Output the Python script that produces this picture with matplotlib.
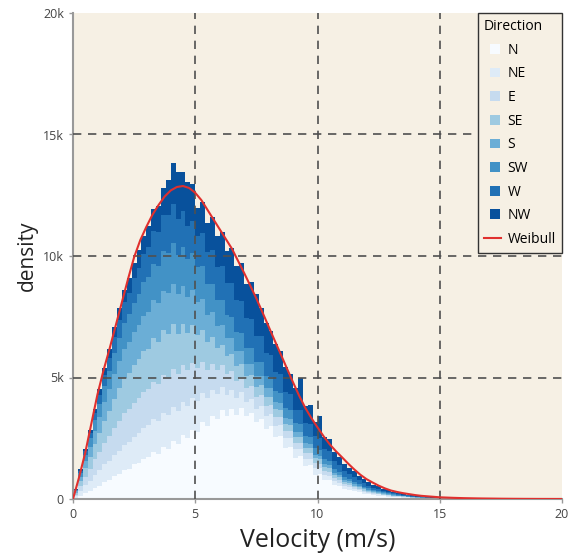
import matplotlib
matplotlib.use("Agg")
import matplotlib.pyplot as plt
from matplotlib.patches import Patch
from matplotlib.lines import Line2D
from matplotlib.ticker import FuncFormatter
import numpy as np

# ---------------- data ----------------
bin_width = 0.2
bin_left = [round(i * 0.2, 1) for i in range(75)]   # 0.0 ... 14.8

directions = ["N", "NE", "E", "SE", "S", "SW", "W", "NW"]

N = [50, 140, 260, 340, 460, 550, 700, 780, 940, 1020,
     1180, 1250, 1420, 1500, 1660, 1720, 1950, 1850, 2150, 2050,
     2400, 2250, 2650, 2500, 2850, 2750, 3150, 3000, 3400, 3300,
     3650, 3400, 3700, 3450, 3750, 3400, 3550, 3150, 3300, 2900,
     3000, 2550, 2600, 2100, 2150, 1700, 1750, 1350, 1380, 1000,
     1030, 770, 780, 570, 540, 410, 385, 315, 280, 220,
     190, 160, 142, 112, 94, 74, 66, 54, 46, 34,
     28, 24, 20, 16, 12]
NE = [60, 180, 300, 420, 540, 640, 720, 800, 880, 960,
      1030, 1090, 1150, 1210, 1270, 1310, 1330, 1350, 1370, 1390,
      1390, 1370, 1350, 1330, 1310, 1270, 1210, 1150, 1090, 1030,
      960, 880, 800, 720, 640, 590, 570, 550, 530, 510,
      485, 455, 425, 395, 365, 340, 320, 300, 280, 260,
      237, 211, 185, 159, 133, 114, 102, 90, 78, 66,
      57, 51, 45, 39, 33, 28, 24, 20, 16, 12,
      10, 9, 8, 6, 5]
E = [70, 210, 350, 490, 630, 760, 880, 1000, 1120, 1240,
     1320, 1360, 1400, 1440, 1480, 1510, 1530, 1550, 1570, 1590,
     1580, 1540, 1500, 1460, 1420, 1355, 1265, 1175, 1085, 995,
     915, 845, 775, 705, 635, 580, 540, 500, 460, 420,
     387, 361, 335, 309, 283, 263, 249, 235, 221, 207,
     190, 170, 150, 130, 110, 95, 85, 75, 65, 55,
     47, 41, 35, 29, 23, 19, 17, 15, 13, 11,
     10, 9, 8, 6, 5]
SE = [70, 210, 350, 490, 630, 770, 910, 1050, 1190, 1330,
      1430, 1490, 1550, 1610, 1670, 1650, 1800, 1700, 1850, 1750,
      1820, 1650, 1720, 1540, 1580, 1380, 1350, 1120, 1090, 880,
      815, 745, 675, 605, 535, 485, 455, 425, 395, 365,
      340, 320, 300, 280, 260, 245, 235, 225, 215, 205,
      190, 170, 150, 130, 110, 95, 85, 75, 65, 55,
      47, 41, 35, 29, 23, 19, 17, 15, 13, 11,
      10, 9, 8, 6, 5]
S = [60, 180, 300, 420, 540, 660, 780, 900, 1020, 1140,
     1230, 1290, 1350, 1410, 1470, 1520, 1560, 1600, 1640, 1680,
     1670, 1610, 1550, 1490, 1430, 1345, 1235, 1125, 1015, 905,
     815, 745, 675, 605, 535, 485, 455, 425, 395, 365,
     338, 314, 290, 266, 242, 222, 206, 190, 174, 158,
     143, 129, 115, 101, 87, 76, 68, 60, 52, 44,
     38, 34, 30, 26, 22, 19, 17, 15, 13, 11,
     10, 9, 8, 6, 5]
SW = [50, 150, 250, 350, 450, 550, 650, 750, 850, 950,
      1040, 1120, 1200, 1280, 1360, 1430, 1490, 1550, 1610, 1670,
      1680, 1640, 1600, 1560, 1520, 1455, 1365, 1275, 1185, 1095,
      1015, 945, 875, 805, 735, 680, 640, 600, 560, 520,
      485, 455, 425, 395, 365, 340, 320, 300, 280, 260,
      237, 211, 185, 159, 133, 114, 102, 90, 78, 66,
      57, 51, 45, 39, 33, 28, 24, 20, 16, 12,
      10, 9, 8, 6, 5]
W = [30, 85, 160, 200, 280, 340, 470, 530, 680, 730,
     870, 890, 1030, 1050, 1190, 1210, 1350, 1370, 1500, 1540,
     1600, 1480, 1480, 1360, 1350, 1280, 1360, 1320, 1400, 1360,
     1420, 1340, 1380, 1300, 1330, 1230, 1210, 1070, 1050, 910,
     890, 780, 770, 670, 650, 570, 590, 530, 550, 490,
     490, 410, 390, 310, 285, 245, 200, 192, 150, 138,
     118, 94, 88, 68, 59, 49, 39, 36, 28, 24,
     20, 16, 15, 12, 11]
NW = [20, 70, 90, 150, 170, 250, 270, 380, 390, 500,
      500, 620, 630, 760, 740, 900, 920, 1100, 1100, 1450,
      1700, 1900, 1600, 1800, 1500, 1150, 1300, 1200, 1350, 1250,
      1400, 1300, 1450, 1400, 1550, 1400, 1500, 1700, 1150, 1250,
      1000, 1150, 950, 1000, 820, 900, 1300, 700, 750, 580,
      900, 480, 500, 360, 350, 300, 230, 250, 180, 170,
      150, 115, 120, 85, 80, 70, 52, 55, 38, 35,
      30, 22, 21, 15, 12]

series = [N, NE, E, SE, S, SW, W, NW]

# Weibull fit curve, every 0.25 m/s
weibull_x = [i * 0.25 for i in range(81)]
weibull_y = [0, 900, 1900, 3100, 4300, 5300, 6200, 7150, 8100, 9050,
             9950, 10650, 11200, 11700, 12100, 12450, 12700, 12840, 12880, 12800,
             12600, 12300, 11900, 11500, 11100, 10700, 10300, 9800, 9300, 8780,
             8250, 7680, 7100, 6520, 5950, 5370, 4800, 4250, 3750, 3330,
             2950, 2580, 2250, 1970, 1720, 1460, 1220, 1000, 820, 680,
             550, 440, 350, 290, 240, 200, 160, 130, 110, 90,
             70, 60, 50, 42, 35, 30, 25, 21, 18, 15,
             12, 10, 8, 6.5, 5, 4, 3, 2.5, 2, 1.5, 1]

colors = ['#f7fbff', '#deebf7', '#c6dbef', '#9ecae1',
          '#6baed6', '#4292c6', '#2171b5', '#08519c']

# ---------------- figure ----------------
plt.rcParams['font.family'] = ['Open Sans', 'DejaVu Sans']
fig = plt.figure(figsize=(5.77, 5.60), dpi=100)
ax = fig.add_axes([73/577, 1 - 499/560, (562-73)/577, (499-13)/560])
bg = '#f6f0e4'
ax.set_facecolor(bg)

bottom = np.zeros(len(bin_left))
for name, vals, c in zip(directions, series, colors):
    ax.bar(bin_left, vals, width=bin_width, bottom=bottom, align='edge',
           color=c, edgecolor='none', linewidth=0, zorder=2)
    bottom = bottom + np.array(vals)

ax.plot(weibull_x, weibull_y, color='#e0302e', lw=1.5, zorder=4)

ax.set_xlim(0, 20)
ax.set_ylim(0, 20000)
ax.set_xticks([0, 5, 10, 15, 20])
ax.set_yticks([0, 5000, 10000, 15000, 20000])
ax.yaxis.set_major_formatter(FuncFormatter(lambda v, p: '0' if v == 0 else f'{int(v/1000)}k'))

for v in [5, 10, 15]:
    ax.axvline(v, color='#505050', lw=1.2, ls=(0, (5, 4)), zorder=3)
for v in [5000, 10000, 15000]:
    ax.axhline(v, color='#505050', lw=1.2, ls=(0, (5, 4)), zorder=3)

for s in ['top', 'right']:
    ax.spines[s].set_visible(False)
for s in ['left', 'bottom']:
    ax.spines[s].set_color('#999999')
    ax.spines[s].set_linewidth(1.5)
ax.tick_params(axis='both', colors='#999999', labelcolor='#444444',
               labelsize=9, length=3, width=1)

ax.set_xlabel('Velocity (m/s)', fontsize=18, color='#222222', labelpad=5)
ax.set_ylabel('density', fontsize=15, color='#222222', labelpad=4)

handles = [Patch(facecolor=c, edgecolor='none', label=d) for d, c in zip(directions, colors)]
handles.append(Line2D([0], [0], color='#e0302e', lw=1.5, label='Weibull'))
leg = ax.legend(handles=handles, title='Direction', loc='upper right',
                bbox_to_anchor=(1.0, 1.0), borderaxespad=0, fontsize=10,
                title_fontsize=10, frameon=True, fancybox=False,
                handlelength=1.2, handleheight=0.7, labelspacing=0.62,
                handletextpad=0.5, borderpad=0.45)
leg._legend_box.align = 'left'
# make the direction swatches small squares, centred in the handle box
for patch in leg.get_patches():
    w = patch.get_width()
    h = patch.get_height()
    patch.set_x(patch.get_x() + (w - h) / 2 + 2)
    patch.set_width(h)
frame = leg.get_frame()
frame.set_edgecolor('#333333')
frame.set_facecolor(bg)
frame.set_alpha(1)
frame.set_linewidth(1.0)
leg.set_zorder(5)

fig.savefig('out.png', dpi=100, facecolor='white')
